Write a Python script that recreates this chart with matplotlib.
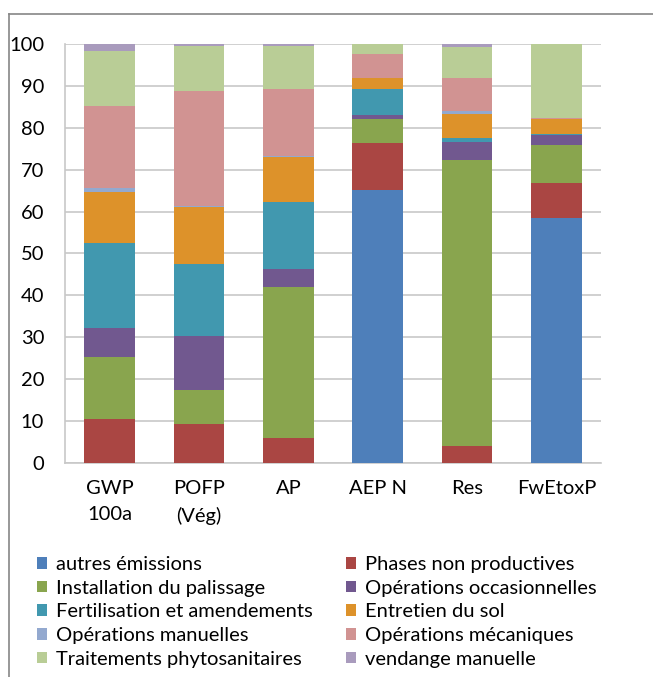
import matplotlib
matplotlib.use("Agg")
import matplotlib.pyplot as plt
from matplotlib.lines import Line2D
import numpy as np

plt.rcParams['font.family'] = ['Lato', 'DejaVu Sans']

categories = ["GWP\n100a", "POFP\n(Vég)", "AP", "AEP N", "Res", "FwEtoxP"]
yticks = [0, 10, 20, 30, 40, 50, 60, 70, 80, 90, 100]

autres_emissions = [0.0, 0.0, 0.0, 65.2, 0.0, 58.4]
phases_non_productives = [10.6, 9.4, 5.9, 11.2, 4.1, 8.4]
installation_palissage = [14.7, 8.0, 36.1, 5.6, 68.2, 9.1]
operations_occasionnelles = [7.0, 12.9, 4.2, 1.1, 4.4, 2.4]
fertilisation = [20.2, 17.1, 16.2, 6.1, 0.9, 0.3]
entretien_sol = [12.1, 13.7, 10.6, 2.8, 5.8, 3.4]
operations_manuelles = [1.0, 0.3, 0.3, 0.0, 0.5, 0.0]
operations_mecaniques = [19.6, 27.3, 15.9, 5.7, 7.9, 0.4]
traitements_phyto = [13.2, 10.9, 10.4, 2.3, 7.4, 17.6]
vendange_manuelle = [1.6, 0.4, 0.4, 0.0, 0.8, 0.0]

series_names = ["autres émissions", "Phases non productives", "Installation du palissage",
                "Opérations occasionnelles", "Fertilisation et amendements", "Entretien du sol",
                "Opérations manuelles", "Opérations mécaniques", "Traitements phytosanitaires",
                "vendange manuelle"]
series_values = [autres_emissions, phases_non_productives, installation_palissage,
                 operations_occasionnelles, fertilisation, entretien_sol,
                 operations_manuelles, operations_mecaniques, traitements_phyto,
                 vendange_manuelle]
colors = ["#4E7FBA", "#AA4643", "#89A54E", "#71588F", "#4198AF", "#DD922A",
          "#93A9CF", "#D19392", "#B9CD96", "#A99BBD"]

FS = 14.5

fig = plt.figure(figsize=(6.53, 6.77), dpi=100)
ax = fig.add_axes([65/653, 1-463/677, (601-65)/653, (463-44)/677])

x = np.arange(len(categories))
bottom = np.zeros(len(categories))
handles = []
for name, vals, c in zip(series_names, series_values, colors):
    vals = np.array(vals)
    b = ax.bar(x, vals, width=0.57, bottom=bottom, color=c, label=name, linewidth=0, zorder=3)
    handles.append(b)
    bottom += vals

ax.set_xlim(-0.5, len(categories) - 0.5)
ax.set_ylim(0, 100)
ax.set_yticks(yticks)
ax.set_yticklabels([str(v) for v in yticks])
ax.set_xticks(x)
ax.set_xticklabels(categories, linespacing=1.65)
ax.tick_params(axis='both', length=0, labelsize=FS, colors="#000000")
ax.tick_params(axis='y', pad=15)
ax.tick_params(axis='x', pad=12)
ax.yaxis.grid(True, color="#C8C8C8", linewidth=1.2, zorder=0)
ax.set_axisbelow(True)
for s in ['top', 'right']:
    ax.spines[s].set_visible(False)
for s in ['left', 'bottom']:
    ax.spines[s].set_color("#C8C8C8")
    ax.spines[s].set_linewidth(1.2)

order = [0, 2, 4, 6, 8, 1, 3, 5, 7, 9]
leg = fig.legend([handles[i] for i in order], [series_names[i] for i in order],
                 ncol=2, loc='upper left', bbox_to_anchor=(37/653, 1-556/677),
                 frameon=False, fontsize=FS, handlelength=0.5, handleheight=0.5,
                 handletextpad=0.45, columnspacing=1.65, labelspacing=0.33,
                 borderaxespad=0, borderpad=0)

# outer chart frame (cropped)
fig.add_artist(Line2D([9/653, 1.0], [1-14/677, 1-14/677], color="#868686", linewidth=1.2,
                      transform=fig.transFigure))
fig.add_artist(Line2D([9/653, 9/653], [0, 1-14/677], color="#868686", linewidth=1.2,
                      transform=fig.transFigure))

fig.savefig("out.png", dpi=100)
